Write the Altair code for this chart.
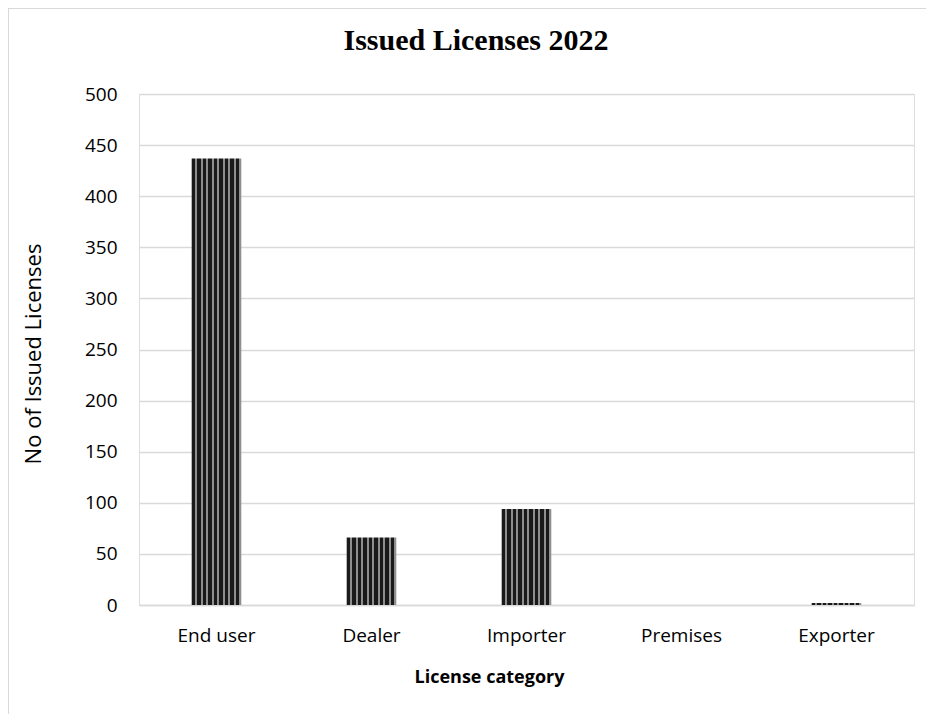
import altair as alt
import pandas as pd

categories = ["End user", "Dealer", "Importer", "Premises", "Exporter"]
licenses = [437, 66, 94, 0, 2]
y_ticks = [0, 50, 100, 150, 200, 250, 300, 350, 400, 450, 500]
title_text = "Issued Licenses 2022"

df = pd.DataFrame({"category": categories, "licenses": licenses})

# dotted-looking fill approximated by fine vertical stripes
stops = []
n = 9
for i in range(n):
    a, b, c = i / n, (i + 0.6) / n, (i + 1) / n
    stops += [
        alt.GradientStop(offset=a, color="#1a1a1a"),
        alt.GradientStop(offset=b, color="#1a1a1a"),
        alt.GradientStop(offset=b, color="#8f8f8f"),
        alt.GradientStop(offset=c, color="#8f8f8f"),
    ]
fill = alt.LinearGradient(gradient="linear", stops=stops, x1=0, x2=1, y1=0, y2=0)

W, H = 775, 511
LABEL_FONT = "Open Sans"

bars = alt.Chart(df).mark_bar(color=fill).encode(
    x=alt.X(
        "category:N",
        sort=categories,
        scale=alt.Scale(paddingInner=0.68, paddingOuter=0.34),
        axis=alt.Axis(
            title="License category",
            titleFont=LABEL_FONT,
            titleFontSize=18,
            titleFontWeight="bold",
            titleColor="#000000",
            titleX=350,
            titleY=72,
            titleAlign="center",
            titleBaseline="middle",
            labelFont=LABEL_FONT,
            labelFontSize=19,
            labelColor="#000000",
            labelAngle=0,
            labelPadding=21,
            ticks=False,
            domainColor="#d9d9d9",
            domainWidth=1.5,
        ),
    ),
    y=alt.Y(
        "licenses:Q",
        scale=alt.Scale(domain=[0, 500], nice=False),
        axis=alt.Axis(
            values=y_ticks,
            title="No of Issued Licenses",
            titleFont=LABEL_FONT,
            titleFontSize=22,
            titleFontWeight="normal",
            titleColor="#000000",
            titleX=-106,
            titleY=H / 2 + 4,
            titleBaseline="middle",
            labelFont=LABEL_FONT,
            labelFontSize=19,
            labelColor="#000000",
            labelPadding=22,
            ticks=False,
            domain=False,
            gridColor="#d9d9d9",
            gridWidth=1.5,
        ),
    ),
)

frame = alt.Chart(alt.Data(values=[{}])).mark_rect(
    fill="transparent", stroke="#d9d9d9", strokeWidth=2
).encode(
    x=alt.value(-131), x2=alt.value(W + 60), y=alt.value(-86), y2=alt.value(H + 150)
)

title = alt.Chart(alt.Data(values=[{"t": title_text}])).mark_text(
    font="Liberation Serif", fontSize=30, fontWeight="bold", color="#000000",
    align="center", baseline="alphabetic"
).encode(
    text="t:N", x=alt.value(337), y=alt.value(-44)
)

chart = alt.layer(frame, bars, title).properties(
    width=W, height=H,
    padding={"left": 131, "top": 86, "right": 12, "bottom": 109},
    autosize=alt.AutoSizeParams(type="none"),
).configure_view(stroke=None).configure(background="white")

chart.save("out.html", embed_options={"renderer": "svg", "actions": False})
